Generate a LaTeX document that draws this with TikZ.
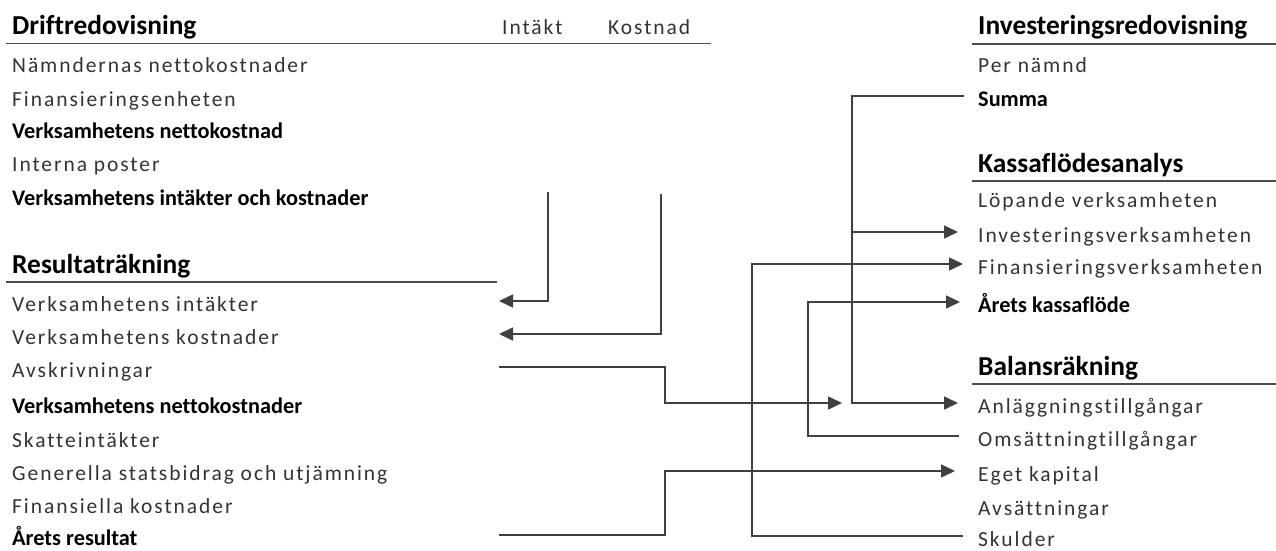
\documentclass[tikz,border=0pt]{standalone}
\usepackage{fontspec}
\setmainfont{Carlito}[Ligatures=NoCommon]
\newfontfamily\spacedfont{Carlito}[LetterSpace=9,Ligatures=NoCommon]
\usetikzlibrary{arrows.meta}
\tikzset{
  txt/.style={anchor=base west, inner sep=0pt, text height=20pt, text depth=0pt,
    font=\spacedfont\fontsize{21.5}{24}\selectfont, text=black!80},
  btxt/.style={txt, font=\bfseries\fontsize{22.3}{24}\selectfont, text=black},
  head/.style={anchor=base west, inner sep=0pt, font=\bfseries\fontsize{27.4}{30}\selectfont, text=black},
  hrule/.style={line width=1.8pt, black!70},
  conn/.style={line width=1.5pt, black!75},
  arr/.style={conn, -{Triangle[length=14pt,width=13pt]}},
}
\begin{document}
\begin{tikzpicture}[x=1pt,y=-1pt]
\useasboundingbox (0,0) rectangle (1276,551);

% ---------- Driftredovisning ----------
\node[head] (drift) at (12,35) {Driftredovisning};
\node[txt] (intakt) at (502,35) {Intäkt};
\node[txt] (kostnad) at (608,35) {Kostnad};
\coordinate (r1a) at (6,43.5);
\coordinate (r1b) at (711,43.5);
\draw[hrule] (r1a) -- (r1b);
\node[txt]  (nn)  at (12,72)  {Nämndernas nettokostnader};
\node[txt]  (fe)  at (12,106) {Finansieringsenheten};
\node[btxt] (vn)  at (12,138) {Verksamhetens nettokostnad};
\node[txt]  (ip)  at (12,171) {Interna poster};
\node[btxt] (vik) at (12,205) {Verksamhetens intäkter och kostnader};

% ---------- Resultaträkning ----------
\node[head] (res) at (12,273) {Resultaträkning};
\coordinate (r2a) at (6,282);
\coordinate (r2b) at (497,282);
\draw[hrule] (r2a) -- (r2b);
\node[txt]  (vi)   at (12,311) {Verksamhetens intäkter};
\node[txt]  (vk)   at (12,344) {Verksamhetens kostnader};
\node[txt]  (avs)  at (12,377) {Avskrivningar};
\node[btxt] (vnk)  at (12,413) {Verksamhetens nettokostnader};
\node[txt]  (ski)  at (12,447) {Skatteintäkter};
\node[txt]  (gen)  at (12,480) {Generella statsbidrag och utjämning};
\node[txt]  (fk)   at (12,513) {Finansiella kostnader};
\node[btxt] (ar)   at (12,545) {Årets resultat};

% ---------- Investeringsredovisning ----------
\node[head] (inv0) at (978,35) {Investeringsredovisning};
\coordinate (r3a) at (972,44);
\coordinate (r3b) at (1276,44);
\draw[hrule] (r3a) -- (r3b);
\node[txt]  (pn)    at (978,73)  {Per nämnd};
\node[btxt] (summa) at (978,106) {Summa};

% ---------- Kassaflödesanalys ----------
\node[head] (kfa) at (978,172) {Kassaflödesanalys};
\coordinate (r4a) at (972,181);
\coordinate (r4b) at (1276,181);
\draw[hrule] (r4a) -- (r4b);
\node[txt]  (lv)  at (978,207) {Löpande verksamheten};
\node[txt]  (inv) at (978,242) {Investeringsverksamheten};
\node[txt]  (fin) at (978,274) {Finansieringsverksamheten};
\node[btxt] (ak)  at (978,312) {Årets kassaflöde};

% ---------- Balansräkning ----------
\node[head] (bal) at (978,375) {Balansräkning};
\coordinate (r5a) at (972,384);
\coordinate (r5b) at (1276,384);
\draw[hrule] (r5a) -- (r5b);
\node[txt] (anl)  at (978,413) {Anläggningstillgångar};
\node[txt] (oms)  at (978,446) {Omsättningtillgångar};
\node[txt] (eget) at (978,481) {Eget kapital};
\node[txt] (avsa) at (978,515) {Avsättningar};
\node[txt] (sku)  at (978,546) {Skulder};

% ---------- connector helpers ----------
\coordinate (colL) at (499,0);
\coordinate (iTop) at (548,192);
\coordinate (kTop) at (661,194);
\coordinate (midX) at (665,0);
\coordinate (avsEnd) at (842,0);
\coordinate (sumX) at (852,0);
\coordinate (skX) at (752,0);
\coordinate (omX) at (808,0);

% ---------- connectors ----------
\draw[arr] (iTop) |- (colL |- vi.west);
\draw[arr] (kTop) |- (colL |- vk.west);
\draw[arr] (colL |- avs.west) -| (midX |- anl.west) -- (avsEnd |- anl.west);
\draw[arr] (colL |- ar.west) -| (midX |- eget.west) -- ([xshift=-23pt]eget.west);
\draw[arr] ([xshift=-14pt]summa.west) -| (sumX |- anl.west) -- ([xshift=-20pt]anl.west);
\draw[arr] (sumX |- inv.west) -- ([xshift=-20pt]inv.west);
\draw[arr] ([xshift=-15pt]sku.west) -| (skX |- fin.west) -- ([xshift=-15pt]fin.west);
\draw[arr] ([xshift=-19pt]oms.west) -| (omX |- ak.west) -- ([xshift=-18pt]ak.west);
\end{tikzpicture}
\end{document}
